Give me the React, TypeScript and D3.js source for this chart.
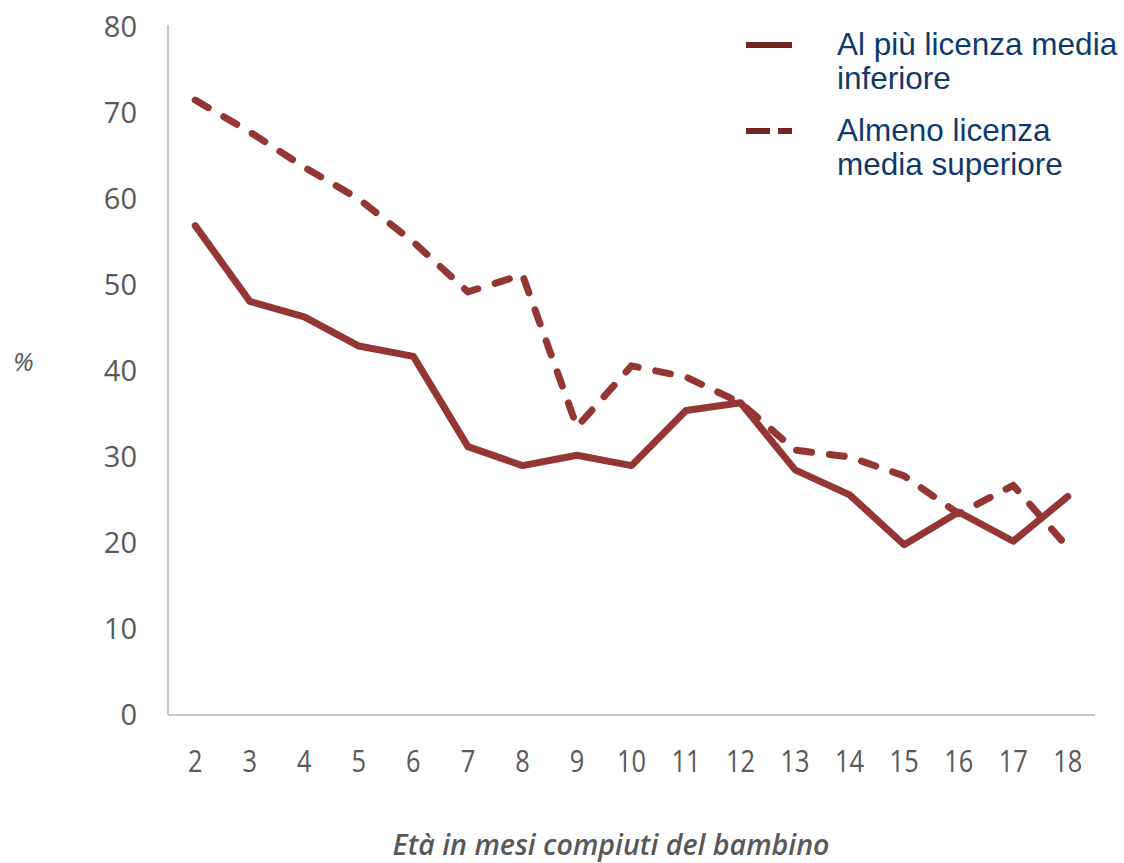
import React, { useEffect } from "react";
import * as d3 from "d3";

const months = ["2","3","4","5","6","7","8","9","10","11","12","13","14","15","16","17","18"];
const lowerEdu = [56.9, 48.1, 46.3, 42.9, 41.7, 31.2, 29.0, 30.2, 29.0, 35.4, 36.3, 28.5, 25.6, 19.8, 23.6, 20.2, 25.4];
const upperEdu = [71.5, 67.8, 63.7, 60.0, 55.0, 49.2, 51.2, 33.5, 40.6, 39.3, 36.3, 30.8, 30.0, 27.8, 23.4, 26.7, 19.5];
const yTicks = [0, 10, 20, 30, 40, 50, 60, 70, 80];
const seriesNames = ["Al più licenza media inferiore", "Almeno licenza media superiore"];
const legendLines = [["Al più licenza media", "inferiore"], ["Almeno licenza", "media superiore"]];

const W = 1124, H = 863;
const left = 168, right = 1095, top = 27, bottom = 715;
const lineColor = "#943634";
const legendColor = "#6e2626";
const textGray = "#595959";
const legendText = "#0f3a6b";

export default function App() {
  useEffect(() => {
    document.body.style.margin = "0";
  }, []);

  const x = d3.scaleBand<string>().domain(months).range([left, right]).paddingInner(0).paddingOuter(0);
  const cx = (m: string) => (x(m) as number) + x.bandwidth() / 2;
  const y = d3.scaleLinear().domain([0, 80]).range([bottom, top]);

  const line = d3.line<number>()
    .x((_, i) => cx(months[i]))
    .y((d) => y(d));

  return (
    <svg width={W} height={H} style={{ display: "block", background: "#fff" }}>
      {/* axes */}
      <line x1={left} x2={left} y1={25} y2={bottom} stroke="#c8c8c8" strokeWidth={2} />
      <line x1={left} x2={right} y1={bottom} y2={bottom} stroke="#c8c8c8" strokeWidth={2} />

      {yTicks.map((t) => (
        <text key={t} x={137} y={y(t)} dy="0.36em" textAnchor="end"
          fontFamily="'Open Sans', sans-serif" fontSize={29} fill={textGray}>{t}</text>
      ))}
      {months.map((m) => (
        <text key={m} transform={`translate(${cx(m)},${772}) scale(0.82,1)`} textAnchor="middle"
          fontFamily="'Open Sans', sans-serif" fontSize={31} fill={textGray}>{m}</text>
      ))}

      <text x={13} y={371} fontFamily="'Open Sans', sans-serif" fontStyle="italic" fontSize={26} fill={textGray}>%</text>
      <text x={611} y={855} textAnchor="middle" fontFamily="'Open Sans', sans-serif" fontStyle="italic"
        fontWeight={600} fontSize={28} fill={textGray} textLength={437} lengthAdjust="spacingAndGlyphs">
        Età in mesi compiuti del bambino
      </text>

      {/* series */}
      <path d={line(upperEdu) || ""} fill="none" stroke={lineColor} strokeWidth={7}
        strokeDasharray="15 18" strokeLinecap="round" strokeLinejoin="round" />
      <path d={line(lowerEdu) || ""} fill="none" stroke={lineColor} strokeWidth={7}
        strokeLinecap="round" strokeLinejoin="round" />

      {/* legend */}
      <g aria-label={seriesNames[0]}>
        <line x1={746} x2={792} y1={45} y2={45} stroke={legendColor} strokeWidth={6} />
        {legendLines[0].map((t, i) => (
          <text key={t} x={837} y={55 + i * 34} fontFamily="'Liberation Sans', Arial, sans-serif" fontSize={31.5} fill={legendText}>{t}</text>
        ))}
      </g>
      <g aria-label={seriesNames[1]}>
        <line x1={746} x2={770} y1={131} y2={131} stroke={legendColor} strokeWidth={6} />
        <line x1={778} x2={792} y1={131} y2={131} stroke={legendColor} strokeWidth={6} />
        {legendLines[1].map((t, i) => (
          <text key={t} x={837} y={141 + i * 34} fontFamily="'Liberation Sans', Arial, sans-serif" fontSize={31.5} fill={legendText}>{t}</text>
        ))}
      </g>
    </svg>
  );
}
